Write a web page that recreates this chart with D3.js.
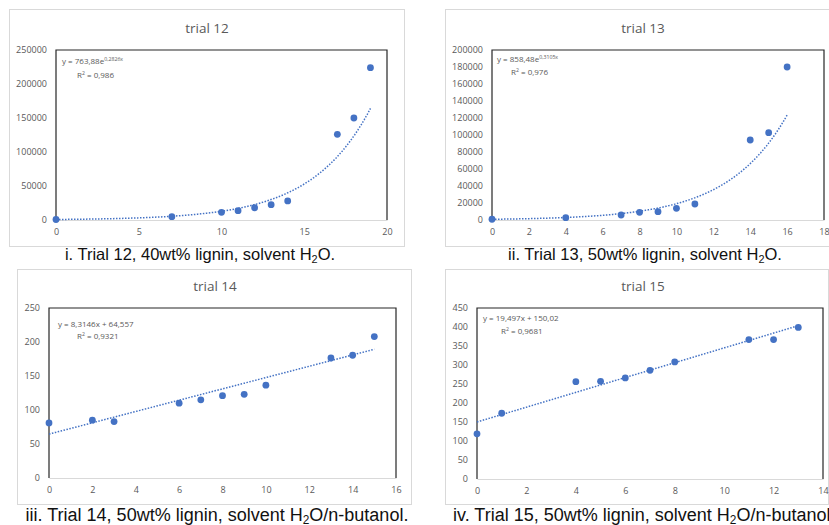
<!DOCTYPE html>
<html>
<head>
<meta charset="utf-8">
<script src="https://cdn.jsdelivr.net/npm/d3@7"></script>
<style>
html,body{margin:0;padding:0;background:#fff;}
svg{display:block;}
</style>
</head>
<body>
<svg id="chart" width="829" height="525"></svg>
<script>
// ---------- DATA ----------
const t12X = [0, 7, 10, 11, 12, 13, 14, 17, 18, 19];
const t12Y = [700, 4900, 11300, 13700, 18000, 22500, 28000, 126000, 150000, 224000];
const t12Fit = {type: "exp", a: 763.88, b: 0.2826};
const t12XTicks = [0, 5, 10, 15, 20];
const t12YTicks = [0, 50000, 100000, 150000, 200000, 250000];

const t13X = [0, 4, 7, 8, 9, 10, 11, 14, 15, 16];
const t13Y = [900, 2700, 5900, 9000, 9800, 13700, 18800, 94100, 102700, 180000];
const t13Fit = {type: "exp", a: 858.48, b: 0.3105};
const t13XTicks = [0, 2, 4, 6, 8, 10, 12, 14, 16, 18];
const t13YTicks = [0, 20000, 40000, 60000, 80000, 100000, 120000, 140000, 160000, 180000, 200000];

const t14X = [0, 2, 3, 6, 7, 8, 9, 10, 13, 14, 15];
const t14Y = [81, 85, 83, 110, 115, 121, 123, 136.5, 176.5, 180.5, 208];
const t14Fit = {type: "lin", a: 8.3146, b: 64.557};
const t14XTicks = [0, 2, 4, 6, 8, 10, 12, 14, 16];
const t14YTicks = [0, 50, 100, 150, 200, 250];

const t15X = [0, 1, 4, 5, 6, 7, 8, 11, 12, 13];
const t15Y = [119, 173, 256, 257, 266, 286, 308, 367, 367, 399];
const t15Fit = {type: "lin", a: 19.497, b: 150.02};
const t15XTicks = [0, 2, 4, 6, 8, 10, 12, 14];
const t15YTicks = [0, 50, 100, 150, 200, 250, 300, 350, 400, 450];

const titles = ["trial 12", "trial 13", "trial 14", "trial 15"];
const eqMain = ["y = 763,88e", "y = 858,48e", "y = 8,3146x + 64,557", "y = 19,497x + 150,02"];
const eqSup = ["0,2826x", "0,3105x", "", ""];
const r2Text = ["0,986", "0,976", "0,9321", "0,9681"];
const captions = [
  ["i. Trial 12, 40wt% lignin, solvent H", "2", "O."],
  ["ii. Trial 13, 50wt% lignin, solvent H", "2", "O."],
  ["iii. Trial 14, 50wt% lignin, solvent H", "2", "O/n-butanol."],
  ["iv. Trial 15, 50wt% lignin, solvent H", "2", "O/n-butanol."]
];

// ---------- LAYOUT ----------
const panels = [
  {xs: t12X, ys: t12Y, fit: t12Fit, xt: t12XTicks, yt: t12YTicks,
   box: {x: 9.5, y: 9.5, w: 395, h: 237}, plot: {l: 56, r: 387, t: 50, b: 220},
   titleX: 207, titleY: 33, eqX: 62, eqY: 64, r2X: 77, r2Y: 78,
   capX: 200, capY: 260, capAnchor: "middle", capSize: 16.5},
  {xs: t13X, ys: t13Y, fit: t13Fit, xt: t13XTicks, yt: t13YTicks,
   box: {x: 445.5, y: 9.5, w: 400, h: 237}, plot: {l: 492, r: 824, t: 50, b: 220},
   titleX: 643, titleY: 33, eqX: 497, eqY: 62, r2X: 511, r2Y: 75,
   capX: 645, capY: 260, capAnchor: "middle", capSize: 16.5},
  {xs: t14X, ys: t14Y, fit: t14Fit, xt: t14XTicks, yt: t14YTicks,
   box: {x: 17.5, y: 269.5, w: 394, h: 235}, plot: {l: 49, r: 396, t: 308, b: 478},
   titleX: 215, titleY: 291, eqX: 58, eqY: 327, r2X: 77, r2Y: 339,
   capX: 217, capY: 521, capAnchor: "middle", capSize: 18},
  {xs: t15X, ys: t15Y, fit: t15Fit, xt: t15XTicks, yt: t15YTicks,
   box: {x: 445.5, y: 269.5, w: 383, h: 235}, plot: {l: 477, r: 823, t: 308, b: 479},
   titleX: 643, titleY: 291, eqX: 483, eqY: 321, r2X: 501, r2Y: 334,
   capX: 453, capY: 521, capAnchor: "start", capSize: 18}
];

const svg = d3.select("#chart");
const blue = "#4472C4";
const grey = "#595959";
const fmt = d3.format("d");

panels.forEach((p, i) => {
  const g = svg.append("g");
  // outer chart box
  g.append("rect").attr("x", p.box.x).attr("y", p.box.y)
    .attr("width", p.box.w).attr("height", p.box.h)
    .attr("fill", "#fff").attr("stroke", "#d9d9d9").attr("stroke-width", 1);

  const x = d3.scaleLinear().domain([p.xt[0], p.xt[p.xt.length - 1]]).range([p.plot.l, p.plot.r]);
  const y = d3.scaleLinear().domain([p.yt[0], p.yt[p.yt.length - 1]]).range([p.plot.b, p.plot.t]);

  // title
  g.append("text").attr("x", p.titleX).attr("y", p.titleY)
    .attr("text-anchor", "middle").attr("font-family", "Open Sans, sans-serif")
    .attr("font-size", 13.5).attr("fill", grey).text(titles[i]);

  // x axis
  const xa = g.append("g").attr("transform", `translate(0,${p.plot.b})`)
    .call(d3.axisBottom(x).tickValues(p.xt).tickSize(0).tickPadding(9).tickFormat(fmt));
  xa.select(".domain").attr("stroke", "#d9d9d9");
  xa.selectAll("text").attr("font-family", "Open Sans, sans-serif").attr("font-size", 9).attr("fill", grey);

  // y axis
  const ya = g.append("g").attr("transform", `translate(${p.plot.l},0)`)
    .call(d3.axisLeft(y).tickValues(p.yt).tickSize(0).tickPadding(9).tickFormat(fmt));
  ya.select(".domain").remove();
  ya.selectAll("text").attr("font-family", "Open Sans, sans-serif").attr("font-size", 9).attr("fill", grey);

  // plot-area border (left, top, right)
  g.append("path")
    .attr("d", `M${p.plot.l},${p.plot.b}V${p.plot.t}H${p.plot.r}V${p.plot.b}`)
    .attr("fill", "none").attr("stroke", "#262626").attr("stroke-width", 1.2);

  // trendline
  const xmin = d3.min(p.xs), xmax = d3.max(p.xs);
  const fx = p.fit.type === "exp" ? (v => p.fit.a * Math.exp(p.fit.b * v)) : (v => p.fit.a * v + p.fit.b);
  const samples = d3.range(0, 101).map(k => xmin + (xmax - xmin) * k / 100);
  g.append("path").datum(samples)
    .attr("d", d3.line().x(v => x(v)).y(v => y(fx(v))))
    .attr("fill", "none").attr("stroke", blue).attr("stroke-width", 1.5)
    .attr("stroke-dasharray", "1.5,1.5");

  // points
  g.selectAll("circle.pt").data(p.xs.map((v, k) => [v, p.ys[k]])).join("circle")
    .attr("class", "pt").attr("cx", d => x(d[0])).attr("cy", d => y(d[1]))
    .attr("r", 3.4).attr("fill", blue);

  // equation
  const eq = g.append("text").attr("x", p.eqX).attr("y", p.eqY)
    .attr("font-family", "Open Sans, sans-serif").attr("font-size", 8).attr("fill", grey);
  eq.append("tspan").text(eqMain[i]);
  if (eqSup[i]) {
    eq.append("tspan").attr("font-size", 5.2).attr("dy", -3.5).text(eqSup[i]);
  }
  const r2 = g.append("text").attr("x", p.r2X).attr("y", p.r2Y)
    .attr("font-family", "Open Sans, sans-serif").attr("font-size", 8).attr("fill", grey);
  r2.append("tspan").text("R");
  r2.append("tspan").attr("font-size", 5.2).attr("dy", -3.5).text("2");
  r2.append("tspan").attr("dy", 3.5).text(" = " + r2Text[i]);

  // caption
  const cs = p.capSize;
  const cap = svg.append("text").attr("x", p.capX).attr("y", p.capY)
    .attr("text-anchor", p.capAnchor)
    .attr("font-family", "Liberation Sans, Arial, sans-serif").attr("font-size", cs).attr("fill", "#111");
  cap.append("tspan").text(captions[i][0]);
  cap.append("tspan").attr("font-size", cs * 0.66).attr("dy", cs * 0.18).text(captions[i][1]);
  cap.append("tspan").attr("dy", -cs * 0.18).text(captions[i][2]);
});
</script>
</body>
</html>
